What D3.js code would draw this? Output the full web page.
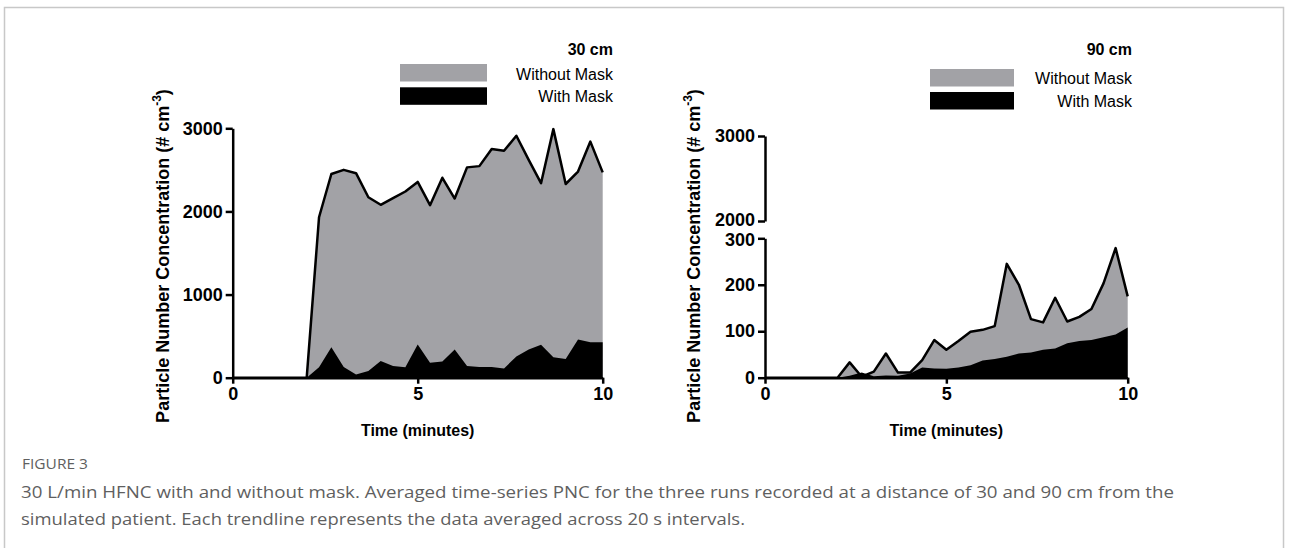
<!DOCTYPE html>
<html>
<head>
<meta charset="utf-8">
<script src="https://cdn.jsdelivr.net/npm/d3@7"></script>
<style>
  body { margin: 0; background: #fff; }
  svg text { font-family: "Liberation Sans", Arial, sans-serif; }
  .axis path, .axis line { stroke: #000; stroke-width: 2.5px; }
  .axis text { font-size: 18px; font-weight: bold; fill: #000; font-family: "Liberation Sans", Arial, sans-serif; }
  text.caption { font-family: "Open Sans", "Noto Sans", sans-serif; fill: #5f5f5f; }
</style>
</head>
<body>
<svg id="fig" width="1290" height="548"></svg>
<script>
// Time stamps (seconds), one every 20 s
var seconds = [0, 20, 40, 60, 80, 100, 120, 140, 160, 180, 200, 220, 240, 260, 280, 300,
               320, 340, 360, 380, 400, 420, 440, 460, 480, 500, 520, 540, 560, 580, 600];

// 30 cm
var noMask30 = [0, 0, 0, 0, 0, 0, 0, 1930, 2450, 2500, 2460, 2170, 2080, 2160, 2240, 2355,
                2075, 2405, 2155, 2530, 2545, 2750, 2730, 2910, 2620, 2340, 2990, 2330, 2480, 2840, 2470];
var mask30   = [0, 0, 0, 0, 0, 0, 0, 125, 365, 130, 40, 80, 200, 140, 125, 400,
                180, 195, 340, 140, 130, 128, 112, 255, 340, 395, 245, 225, 460, 425, 425];

// 90 cm
var noMask90 = [0, 0, 0, 0, 0, 0, 0, 33, 2, 13, 52, 11, 11, 38, 81, 60,
                79, 99, 103, 111, 245, 200, 126, 119, 172, 121, 131, 148, 203, 279, 175];
var mask90   = [0, 0, 0, 0, 0, 0, 0, 4, 11, 3, 5, 4, 9, 22, 20, 19,
                22, 27, 37, 40, 45, 52, 54, 60, 63, 74, 79, 81, 87, 93, 108];

var xTicks = [0, 5, 10];
var yTicks30 = [0, 1000, 2000, 3000];
var yTicksLow90 = [0, 100, 200, 300];
var yTicksHigh90 = [2000, 3000];

var legendLabels = ["Without Mask", "With Mask"];
var grey = "#a2a2a6";

var svg = d3.select("#fig");

// figure frame
svg.append("rect")
  .attr("x", 4.5).attr("y", 7.5)
  .attr("width", 1279).attr("height", 560)
  .attr("fill", "none").attr("stroke", "#c8c8c8").attr("stroke-width", 1.5);

function drawPanel(opt) {
  var g = svg.append("g");
  var x = d3.scaleLinear().domain([0, 10]).range(opt.xRange);
  var y = opt.y;

  var area = function (vals) {
    return d3.area()
      .x(function (d, i) { return x(seconds[i] / 60); })
      .y0(y(0))
      .y1(function (d) { return y(d); })(vals);
  };

  g.append("path").attr("d", area(opt.noMask)).attr("fill", grey);
  g.append("path").attr("d", area(opt.mask)).attr("fill", "#000");
  g.append("path")
    .attr("d", d3.line()
      .x(function (d, i) { return x(seconds[i] / 60); })
      .y(function (d) { return y(d); })(opt.noMask))
    .attr("fill", "none").attr("stroke", "#000")
    .attr("stroke-width", 2.5).attr("stroke-linejoin", "round");

  // x axis
  g.append("g").attr("class", "axis")
    .attr("transform", "translate(0," + y(0) + ")")
    .call(d3.axisBottom(x).tickValues(xTicks).tickFormat(d3.format("d"))
      .tickSize(6).tickSizeOuter(0).tickPadding(4));

  // y axis (one or two segments)
  opt.yAxes.forEach(function (a) {
    var ax = g.append("g").attr("class", "axis")
      .attr("transform", "translate(" + opt.xRange[0] + ",0)")
      .call(d3.axisLeft(a.scale).tickValues(a.ticks).tickFormat(d3.format("d"))
        .tickSize(7).tickSizeOuter(0).tickPadding(3));
    // labels at the axis break sit a little apart
    if (a.nudge) {
      ax.selectAll(".tick text")
        .filter(function (d) { return d === a.nudge.value; })
        .attr("y", a.nudge.dy);
    }
  });

  // titles
  g.append("text")
    .attr("x", (opt.xRange[0] + opt.xRange[1]) / 2)
    .attr("y", 436)
    .attr("text-anchor", "middle")
    .style("font-size", "16px").style("font-weight", "bold")
    .text("Time (minutes)");

  var yt = g.append("text")
    .attr("transform", "translate(" + opt.yTitleX + ",256) rotate(-90)")
    .attr("text-anchor", "middle")
    .style("font-size", "18px").style("font-weight", "bold");
  yt.append("tspan").text("Particle Number Concentration (# cm");
  yt.append("tspan").attr("dy", -8).style("font-size", "12px").text("-3");
  yt.append("tspan").attr("dy", 8).text(")");

  // legend
  var L = opt.legend;
  g.append("text")
    .attr("x", L.right).attr("y", L.titleY)
    .attr("text-anchor", "end")
    .style("font-size", "16px").style("font-weight", "bold")
    .text(opt.title);
  [grey, "#000"].forEach(function (c, i) {
    g.append("rect")
      .attr("x", L.boxX).attr("y", L.boxY[i])
      .attr("width", L.boxW).attr("height", 17.5)
      .attr("fill", c);
    g.append("text")
      .attr("x", L.right).attr("y", L.textY[i])
      .attr("text-anchor", "end")
      .style("font-size", "16px")
      .text(legendLabels[i]);
  });
}

var y30 = d3.scaleLinear().domain([0, 3000]).range([377.7, 128.3]);
drawPanel({
  xRange: [232.7, 602.7],
  y: y30,
  yAxes: [{ scale: y30, ticks: yTicks30 }],
  noMask: noMask30, mask: mask30,
  yTitleX: 169,
  title: "30 cm",
  legend: { right: 613, titleY: 55, boxX: 400, boxW: 87, boxY: [64, 87.3], textY: [80, 102] }
});

var yLow = d3.scaleLinear().domain([0, 300]).range([377.7, 238.3]);
var yHigh = d3.scaleLinear().domain([2000, 3000]).range([221, 136]);
drawPanel({
  xRange: [765, 1127.7],
  y: yLow,
  yAxes: [{ scale: yLow, ticks: yTicksLow90, nudge: { value: 300, dy: 1.5 } },
          { scale: yHigh, ticks: yTicksHigh90, nudge: { value: 2000, dy: -1.5 } }],
  noMask: noMask90, mask: mask90,
  yTitleX: 700,
  title: "90 cm",
  legend: { right: 1132, titleY: 55, boxX: 930, boxW: 84, boxY: [69, 92], textY: [84, 107] }
});

// caption
svg.append("text").attr("class", "caption")
  .attr("x", 22).attr("y", 469)
  .style("font-size", "14px")
  .attr("textLength", 66).attr("lengthAdjust", "spacingAndGlyphs")
  .text("FIGURE 3");
svg.append("text").attr("class", "caption")
  .attr("x", 21).attr("y", 498)
  .style("font-size", "17px")
  .attr("textLength", 1153).attr("lengthAdjust", "spacingAndGlyphs")
  .text("30 L/min HFNC with and without mask. Averaged time-series PNC for the three runs recorded at a distance of 30 and 90 cm from the");
svg.append("text").attr("class", "caption")
  .attr("x", 21).attr("y", 525)
  .style("font-size", "17px")
  .attr("textLength", 724).attr("lengthAdjust", "spacingAndGlyphs")
  .text("simulated patient. Each trendline represents the data averaged across 20 s intervals.");
</script>
</body>
</html>
